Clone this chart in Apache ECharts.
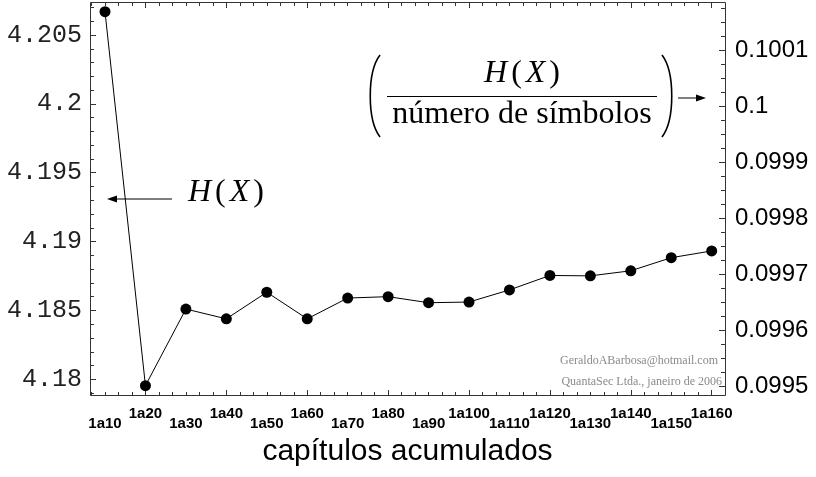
<!DOCTYPE html>
<html><head><meta charset="utf-8">
<script src="https://cdn.jsdelivr.net/npm/echarts@6/dist/echarts.min.js"></script>
<style>html,body{margin:0;padding:0;background:#fff}#c{width:816px;height:477px}</style>
</head><body><div id="c"></div>
<script>
// ---- data ----
const categories = ['1a10','1a20','1a30','1a40','1a50','1a60','1a70','1a80','1a90','1a100','1a110','1a120','1a130','1a140','1a150','1a160'];
const entropy = [4.20669, 4.17954, 4.18510, 4.18439, 4.18632, 4.18439, 4.18590, 4.18600, 4.18556, 4.18561, 4.18649, 4.18754, 4.18751, 4.18788, 4.18883, 4.18932];
const leftTickLabels = ['4.18','4.185','4.19','4.195','4.2','4.205'];
const rightTickLabels = ['0.0995','0.0996','0.0997','0.0998','0.0999','0.1','0.1001'];
const xTitle = 'capítulos acumulados';
const watermark = ['GeraldoABarbosa@hotmail.com', 'QuantaSec Ltda., janeiro de 2006'];

// ---- axis ranges ----
const X_MIN = -0.371, X_MAX = 15.329;
const L_MIN = 4.178787, L_MAX = 4.207396;
const R_MIN = 0.0994830, R_MAX = 0.1001866;

const leftMajor = leftTickLabels.map(Number);
const rightMajor = rightTickLabels.map(Number);
const leftMinor = [];
for (let k = 4179; k <= 4207; k++) { if (k % 5 !== 0) leftMinor.push(k / 1000); }
const rightMinor = [];
for (let k = 3980; k <= 4007; k++) { if (k % 4 !== 0) rightMinor.push(k * 0.000025); }
const xMajor = [], xMinor = [], xEven = [], xOdd = [];
categories.forEach((c, i) => { if (i % 2 === 1) { xMajor.push(i); xOdd.push(i); } else { xEven.push(i); } });
for (let k = -1; k <= 45; k++) { if (((k % 6) + 6) % 6 !== 3) xMinor.push(k / 3); }

// plot box in pixels (grid)
const GL = 90, GR = 91, GT = 2, GB = 81;
const GW = 816 - GL - GR, GH = 477 - GT - GB;

const AX = '#333';
const labelOf = (arr, labs) => v => { let b = 0; arr.forEach((a, i) => { if (Math.abs(a - v) < Math.abs(arr[b] - v)) b = i; }); return labs[b]; };
const catLabel = v => categories[Math.round(v)];
const tick = (vals, len) => ({ show: true, inside: true, length: len, customValues: vals, lineStyle: { color: AX, width: 1 } });

function xa(extra) {
  return Object.assign({
    type: 'value', min: X_MIN, max: X_MAX, position: 'bottom',
    splitLine: { show: false }, axisLine: { show: false, onZero: false },
    axisTick: { show: false }, axisLabel: { show: false }
  }, extra);
}
function ya(min, max, extra) {
  return Object.assign({
    type: 'value', min: min, max: max,
    splitLine: { show: false }, axisLine: { show: false, onZero: false },
    axisTick: { show: false }, axisLabel: { show: false }
  }, extra);
}

const lblX = { fontFamily: 'Liberation Sans', fontWeight: 'bold', fontSize: 15, color: '#000' };
const ital = { fontFamily: 'Liberation Serif', fontStyle: 'italic', fontSize: 32, fill: '#000', padding: [0, 2, 0, 2] };
const upr = { fontFamily: 'Liberation Serif', fontSize: 32, fill: '#000', padding: [0, 2, 0, 2] };

const annotations = [
  // left annotation: H(X) with arrow
  { type: 'text', x: 186, y: 193, style: { text: '{i|H}{r|(}{i|X}{r|)}', verticalAlign: 'middle', rich: { i: ital, r: upr } } },
  { type: 'line', shape: { x1: 115, y1: 199, x2: 172, y2: 199 }, style: { stroke: '#000', lineWidth: 1 } },
  { type: 'polygon', shape: { points: [[107, 199], [117, 195.5], [117, 202.5]] }, style: { fill: '#000' } },
  // fraction annotation
  { type: 'text', x: 522, y: 74, style: { text: '{i|H}{r|(}{i|X}{r|)}', align: 'center', verticalAlign: 'middle', rich: { i: ital, r: upr } } },
  { type: 'line', shape: { x1: 387, y1: 96.5, x2: 657, y2: 96.5 }, style: { stroke: '#000', lineWidth: 1 } },
  { type: 'text', x: 522, y: 115, style: { text: 'número de símbolos', align: 'center', verticalAlign: 'middle',
      font: '32px "Liberation Serif"', fill: '#000' } },
  { type: 'bezierCurve', shape: { x1: 380, y1: 55, cpx1: 367, cpy1: 72, cpx2: 367, cpy2: 120, x2: 380, y2: 137 },
    style: { stroke: '#000', lineWidth: 1.6, fill: null } },
  { type: 'bezierCurve', shape: { x1: 662, y1: 55, cpx1: 675, cpy1: 72, cpx2: 675, cpy2: 120, x2: 662, y2: 137 },
    style: { stroke: '#000', lineWidth: 1.6, fill: null } },
  { type: 'line', shape: { x1: 678, y1: 98, x2: 698, y2: 98 }, style: { stroke: '#000', lineWidth: 1 } },
  { type: 'polygon', shape: { points: [[706, 98], [696, 94.5], [696, 101.5]] }, style: { fill: '#000' } },
  // watermark
  { type: 'text', x: 718, y: 361, style: { text: watermark[0], align: 'right', verticalAlign: 'middle',
      font: '12px "Liberation Serif"', fill: '#8a8a8a' } },
  { type: 'text', x: 722, y: 382, style: { text: watermark[1], align: 'right', verticalAlign: 'middle',
      font: '12px "Liberation Serif"', fill: '#8a8a8a' } },
  // plot frame
  { type: 'rect', silent: true, z: 100, shape: { x: GL + 0.5, y: GT + 0.5, width: GW, height: GH - 1 },
    style: { fill: null, stroke: AX, lineWidth: 1 } }
];

const option = {
  animation: false,
  backgroundColor: '#fff',
  grid: { left: GL, right: GR, top: GT, bottom: GB, containLabel: false },
  xAxis: [
    xa({ axisTick: tick(xMajor, 6),
         axisLabel: { show: true, customValues: xEven, formatter: catLabel, margin: 20, ...lblX },
         name: xTitle, nameLocation: 'middle', nameGap: 41,
         nameTextStyle: { fontFamily: 'Liberation Sans', fontSize: 30, color: '#000' } }),
    xa({ axisLabel: { show: true, customValues: xOdd, formatter: catLabel, margin: 10, ...lblX } }),
    xa({ axisTick: tick(xMinor, 4) }),
    xa({ position: 'top', axisTick: tick(xMajor, 6) }),
    xa({ position: 'top', axisTick: tick(xMinor, 4) })
  ],
  yAxis: [
    ya(L_MIN, L_MAX, { position: 'left', axisTick: tick(leftMajor, 6),
         axisLabel: { show: true, customValues: leftMajor, formatter: labelOf(leftMajor, leftTickLabels),
                      margin: 8, fontFamily: 'Liberation Mono', fontSize: 25, color: '#222' } }),
    ya(L_MIN, L_MAX, { position: 'left', axisTick: tick(leftMinor, 4) }),
    ya(R_MIN, R_MAX, { position: 'right', axisTick: tick(rightMajor, 6),
         axisLabel: { show: true, customValues: rightMajor, formatter: labelOf(rightMajor, rightTickLabels),
                      margin: 10, fontFamily: 'Liberation Sans', fontSize: 24, color: '#000' } }),
    ya(R_MIN, R_MAX, { position: 'right', axisTick: tick(rightMinor, 4) })
  ],
  series: [{
    type: 'line', xAxisIndex: 0, yAxisIndex: 0,
    data: categories.map((c, i) => [i, entropy[i]]),
    symbol: 'circle', symbolSize: 11, showSymbol: true,
    itemStyle: { color: '#000' },
    lineStyle: { color: '#000', width: 1 },
    z: 5
  }],
  graphic: { elements: annotations }
};
const chart = echarts.init(document.getElementById('c'), null, { renderer: 'canvas' });
chart.setOption(option);
</script></body></html>
